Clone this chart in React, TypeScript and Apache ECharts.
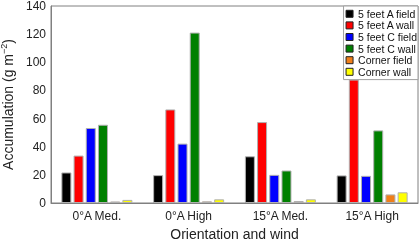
import React, { useEffect, useRef } from "react";
import * as echarts from "echarts";

const categories = ["0°A Med.", "0°A High", "15°A Med.", "15°A High"];
const seriesNames = ["5 feet A field", "5 feet A wall", "5 feet C field", "5 feet C wall", "Corner field", "Corner wall"];
const aField = [21.7, 19.8, 33.2, 19.6];
const aWall = [33.7, 66.5, 57.5, 87.7];
const cField = [53.3, 42.2, 20, 19.3];
const cWall = [55.6, 121.1, 23.1, 51.6];
const cornerField = [1.1, 1.2, 1.4, 6.1];
const cornerWall = [2.2, 2.6, 2.6, 7.6];
const seriesValues = [aField, aWall, cField, cWall, cornerField, cornerWall];
const colors = ["#000000", "#ff0000", "#0000ff", "#008000", "#f07f1a", "#ffff00"];
const yTicks = { min: 0, max: 140, interval: 20 };

export default function App() {
  const ref = useRef<HTMLDivElement>(null);
  useEffect(() => {
    if (!ref.current) return;
    const chart = echarts.init(ref.current, null, { renderer: "svg" });
    const font = "Liberation Sans, Arial, sans-serif";
    chart.setOption({
      animation: false,
      color: colors,
      textStyle: { fontFamily: font },
      grid: {
        left: 51,
        top: 6,
        right: 1,
        bottom: 38,
        containLabel: false,
        outerBoundsMode: "none",
        show: true,
        borderColor: "#808080",
        borderWidth: 1,
        backgroundColor: "transparent",
      },
      legend: {
        orient: "vertical",
        right: 1,
        top: 6,
        padding: [2, 1, 2, 2],
        itemGap: 0,
        itemWidth: 7,
        itemHeight: 7,
        backgroundColor: "#ffffff",
        borderColor: "#a0a0a0",
        borderWidth: 1,
        icon: "rect",
        data: seriesNames,
        itemStyle: { borderColor: "#222", borderWidth: 1 },
        textStyle: { fontSize: 10.5, color: "#111", lineHeight: 11.6, fontFamily: font },
      },
      xAxis: {
        type: "category",
        data: categories,
        axisLine: { lineStyle: { color: "#808080" } },
        axisTick: { show: false },
        axisLabel: { fontSize: 12, color: "#222", margin: 7, fontFamily: font },
        name: "Orientation and wind",
        nameLocation: "middle",
        nameGap: 23,
        nameTextStyle: { fontSize: 14, color: "#222", fontFamily: font },
      },
      yAxis: {
        type: "value",
        min: yTicks.min,
        max: yTicks.max,
        interval: yTicks.interval,
        splitLine: { show: false },
        axisLine: { show: true, lineStyle: { color: "#808080" } },
        axisTick: { show: false },
        axisLabel: { fontSize: 12, lineHeight: 10, color: "#222", margin: 5, fontFamily: font },
        name: "{a|Accumulation (g m}{b|−2}{a|)}",
        nameLocation: "middle",
        nameRotate: 90,
        nameGap: 34,
        nameTextStyle: {
          rich: {
            a: { fontSize: 14, color: "#222", fontFamily: font },
            b: { fontSize: 9, color: "#222", fontFamily: font, padding: [0, 0, 8, 0] },
          },
        },
      },
      series: seriesNames.map((name, i) => ({
        name,
        type: "bar",
        data: seriesValues[i],
        barWidth: 10,
        barGap: "22%",
        itemStyle: { color: colors[i], borderColor: "#b0b0b0", borderWidth: 1 },
      })),
    });
    return () => chart.dispose();
  }, []);
  return <div ref={ref} style={{ position: "fixed", left: 0, top: 0, width: 419, height: 241 }} />;
}
